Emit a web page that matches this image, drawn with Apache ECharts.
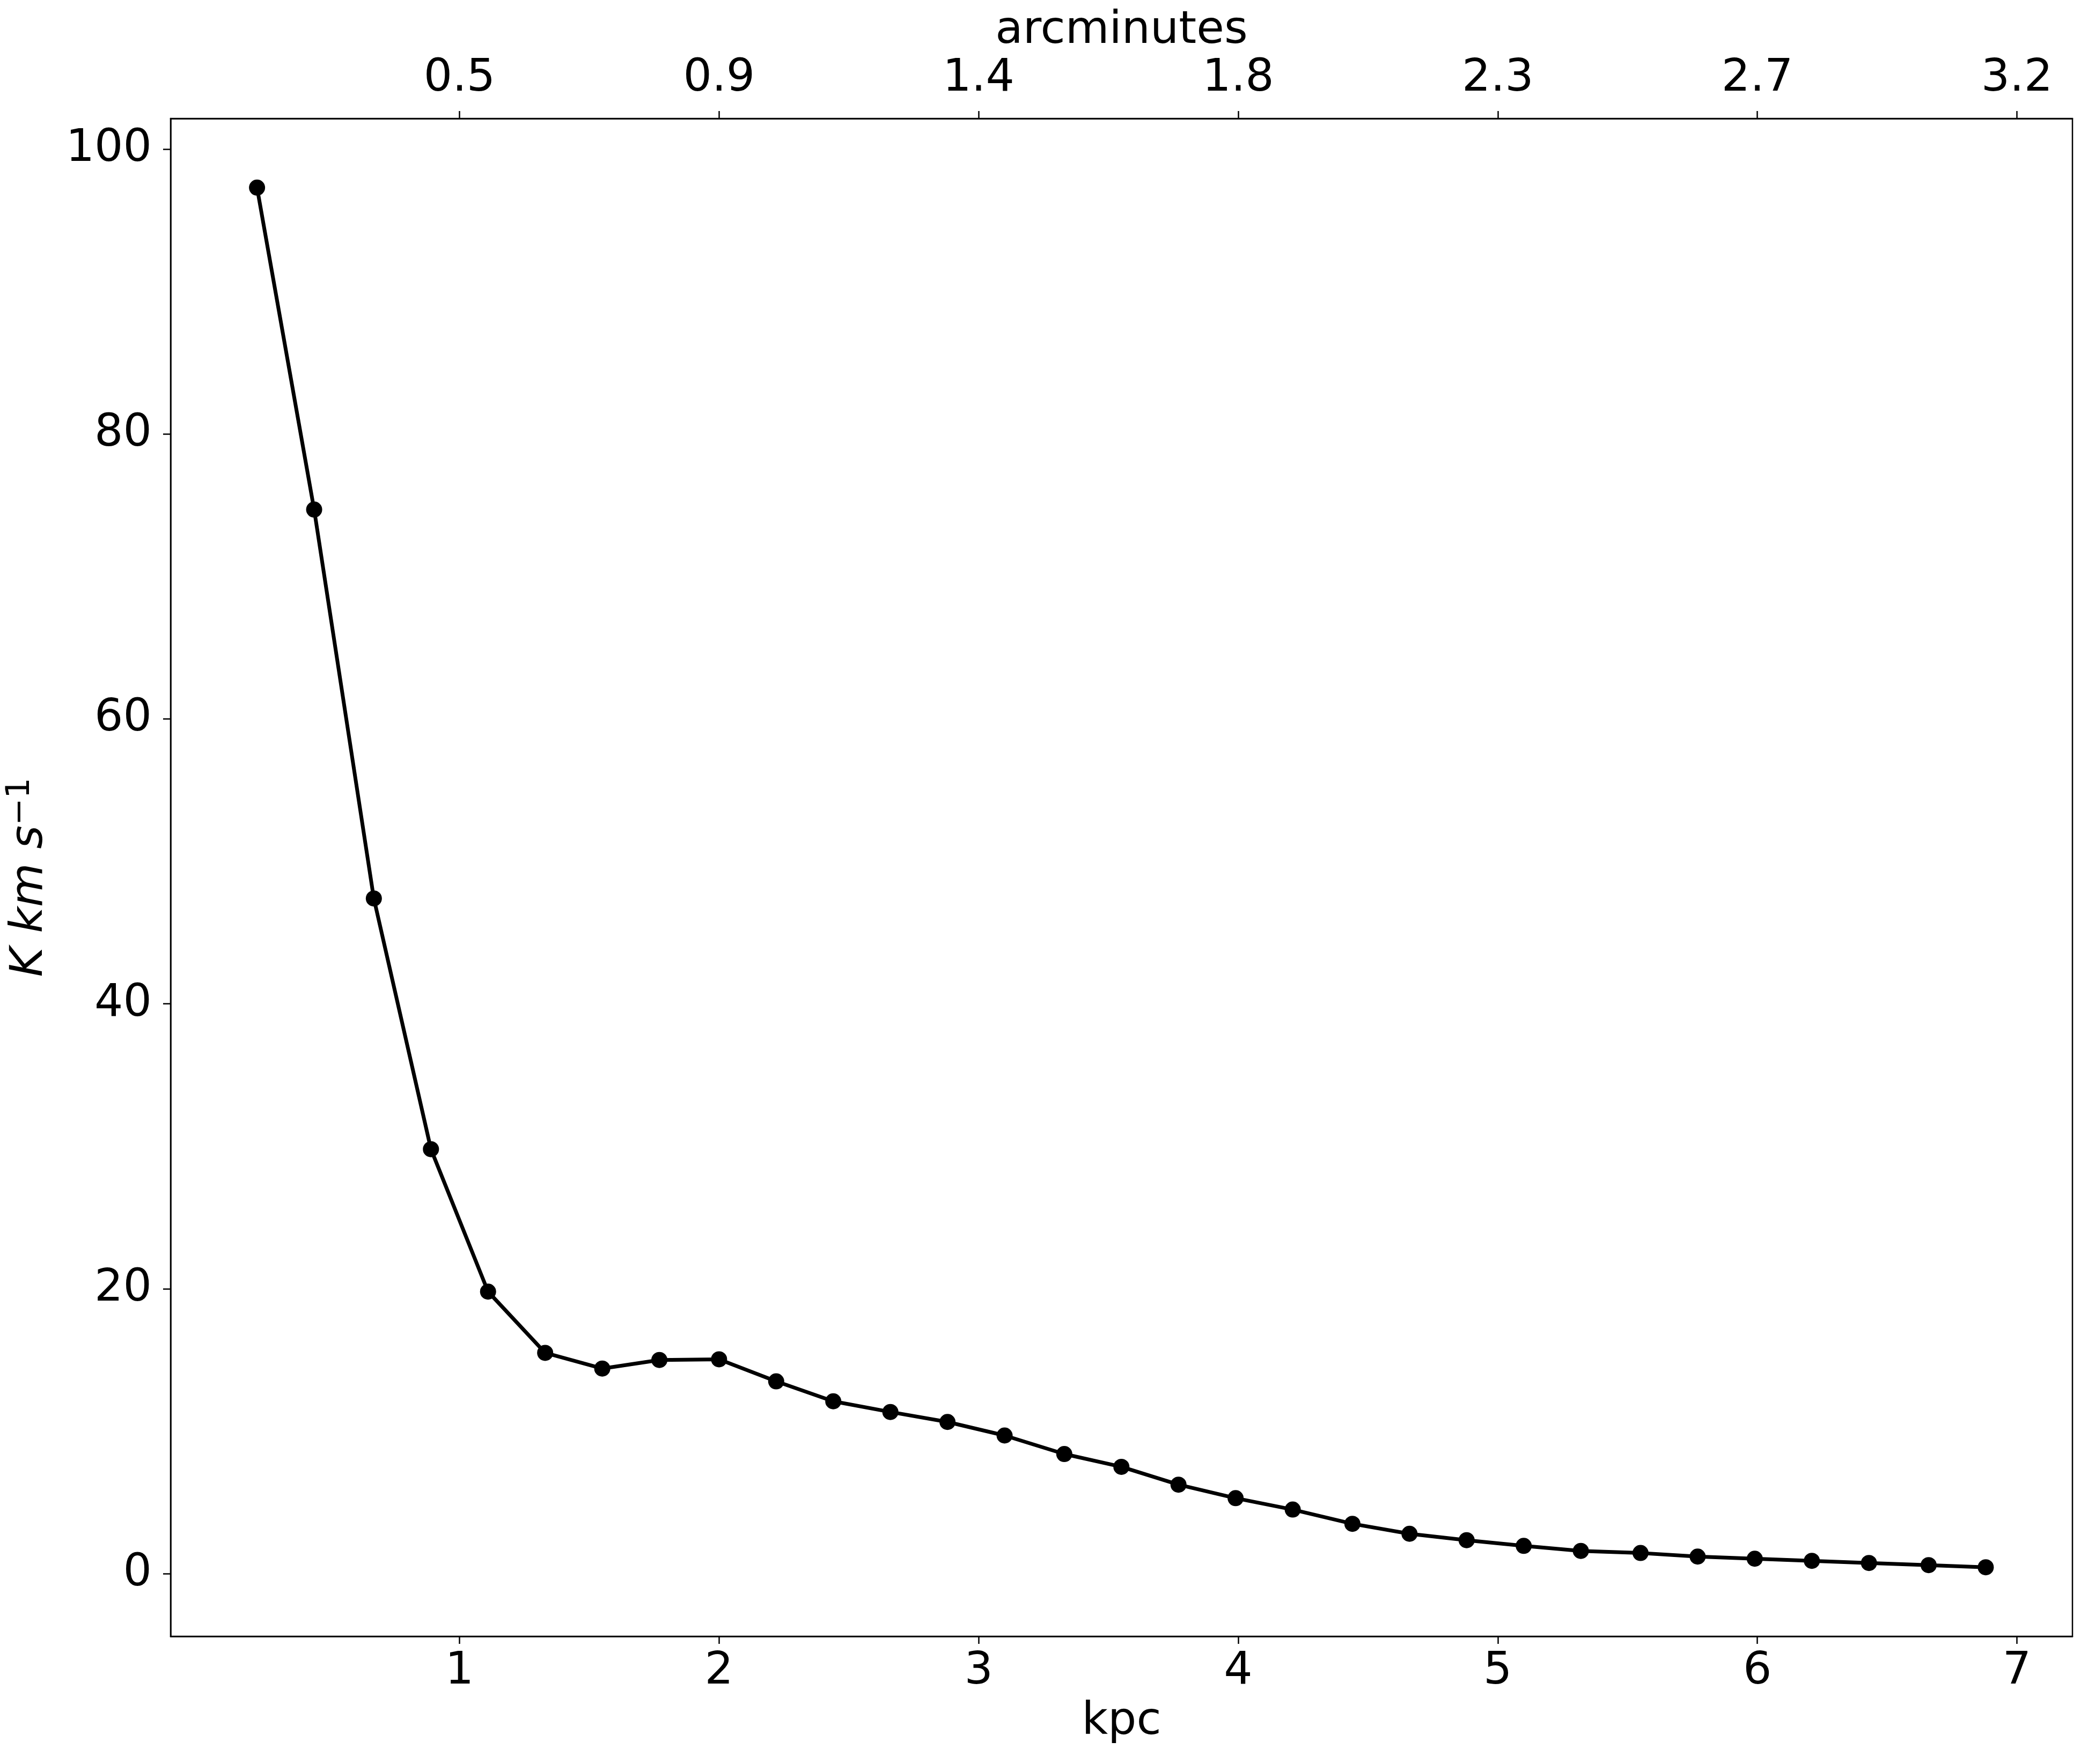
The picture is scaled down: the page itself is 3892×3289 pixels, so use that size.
<!DOCTYPE html>
<html>
<head>
<meta charset="utf-8">
<script src="https://cdn.jsdelivr.net/npm/echarts@6/dist/echarts.min.js"></script>
<style>
  html, body { margin: 0; padding: 0; background: #fff; }
  #chart { width: 3892px; height: 3289px; }
</style>
</head>
<body>
<div id="chart"></div>
<script>
// ---- data ----
const kpc = [0.22, 0.44, 0.67, 0.89, 1.11, 1.33, 1.55, 1.77, 2.00, 2.22, 2.44,
             2.66, 2.88, 3.10, 3.33, 3.55, 3.77, 3.99, 4.21, 4.44, 4.66, 4.88,
             5.10, 5.32, 5.55, 5.77, 5.99, 6.21, 6.43, 6.66, 6.88];
const intensity = [97.3, 74.7, 47.4, 29.8, 19.8, 15.5, 14.4, 15.0, 15.05, 13.5, 12.1,
                   11.35, 10.65, 9.7, 8.4, 7.5, 6.25, 5.3, 4.5, 3.5, 2.8, 2.35,
                   1.95, 1.6, 1.45, 1.2, 1.05, 0.9, 0.75, 0.6, 0.45];
const xTicks = [1, 2, 3, 4, 5, 6, 7];
const arcminLabels = ['0.5', '0.9', '1.4', '1.8', '2.3', '2.7', '3.2'];
const yTicks = [0, 20, 40, 60, 80, 100];
const xRange = [-0.113, 7.214];
const yRange = [-4.4, 102.15];

const FONT = 'DejaVu Sans';
const FS = 84;
const points = kpc.map((x, i) => [x, intensity[i]]);

const chart = echarts.init(document.getElementById('chart'), null, { renderer: 'canvas' });
chart.setOption({
  backgroundColor: '#ffffff',
  animation: false,
  grid: {
    left: 317, right: 29, top: 221, bottom: 238,
    show: true, borderColor: '#000', borderWidth: 2.5, backgroundColor: 'transparent'
  },
  xAxis: [
    {
      type: 'value', position: 'bottom', min: xRange[0], max: xRange[1],
      splitLine: { show: false },
      axisLine: { show: true, onZero: false, lineStyle: { color: '#000', width: 2.5 } },
      axisTick: { show: true, length: 14, lineStyle: { color: '#000', width: 2.5 }, customValues: xTicks },
      axisLabel: { show: true, margin: 24, color: '#000', fontFamily: FONT, fontSize: FS, customValues: xTicks,
                   formatter: v => String(v) },
      name: 'kpc', nameLocation: 'middle', nameGap: 118,
      nameTextStyle: { color: '#000', fontFamily: FONT, fontSize: FS }
    },
    {
      type: 'value', position: 'top', min: xRange[0], max: xRange[1],
      splitLine: { show: false },
      axisLine: { show: true, onZero: false, lineStyle: { color: '#000', width: 2.5 } },
      axisTick: { show: true, length: 14, lineStyle: { color: '#000', width: 2.5 }, customValues: xTicks },
      axisLabel: { show: true, margin: 32, color: '#000', fontFamily: FONT, fontSize: FS, customValues: xTicks,
                   formatter: v => { const i = xTicks.indexOf(Math.round(v)); return i >= 0 ? arcminLabels[i] : ''; } },
      name: 'arcminutes', nameLocation: 'middle', nameGap: 115,
      nameTextStyle: { color: '#000', fontFamily: FONT, fontSize: FS }
    }
  ],
  yAxis: {
    type: 'value', min: yRange[0], max: yRange[1],
    splitLine: { show: false },
    axisLine: { show: true, onZero: false, lineStyle: { color: '#000', width: 2.5 } },
    axisTick: { show: true, length: 14, lineStyle: { color: '#000', width: 2.5 }, customValues: yTicks },
    axisLabel: { show: true, margin: 35, color: '#000', fontFamily: FONT, fontSize: FS, customValues: yTicks,
                 formatter: v => String(v) },
    name: '{k|K km s}{s|−1}', nameLocation: 'middle', nameGap: 220, nameRotate: 90,
    nameTextStyle: {
      color: '#000', fontFamily: FONT, fontSize: FS,
      rich: {
        k: { fontFamily: FONT, fontSize: FS, fontStyle: 'italic', color: '#000', verticalAlign: 'bottom' },
        s: { fontFamily: FONT, fontSize: 60, color: '#000', verticalAlign: 'top', padding: [0, 0, 30, 0] }
      }
    }
  },
  series: [{
    type: 'line', xAxisIndex: 0, yAxisIndex: 0,
    data: points,
    symbol: 'circle', symbolSize: 30,
    lineStyle: { color: '#000', width: 7 },
    itemStyle: { color: '#000' },
    z: 3
  }]
});
</script>
</body>
</html>
